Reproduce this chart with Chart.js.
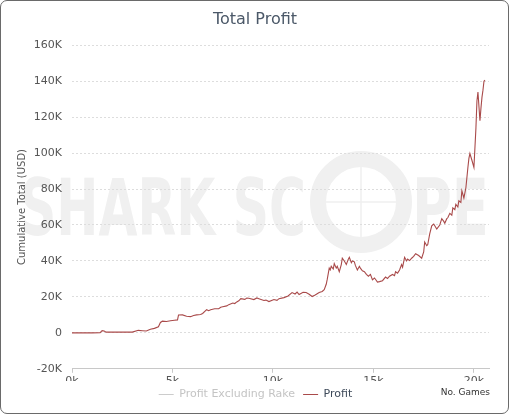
<!DOCTYPE html>
<html>
<head>
<meta charset="utf-8">
<script src="https://cdn.jsdelivr.net/npm/chart.js@4.4.1/dist/chart.umd.min.js"></script>
<style>
  body { margin: 0; background: #fff; }
  #frame { position: absolute; left: 0; top: 0; width: 507px; height: 412px; border: 1px solid #6a6a6a; border-radius: 7px; }
  #profitChart { position: absolute; left: 0; top: 0; }
</style>
</head>
<body>
<div id="frame"></div>
<canvas id="profitChart" width="510" height="416"></canvas>
<script>
// ============================
// DATA (games played -> cumulative profit, USD)
// ============================
const games = [
    0, 500, 1000, 1400, 1500, 1600, 1700, 2000, 2500, 3000, 3300, 3500, 3700, 3900,
    4100, 4300, 4400, 4500, 4700, 4900, 5100, 5250, 5300, 5500, 5700, 5900, 6050, 6200,
    6400, 6500, 6700, 6800, 6900, 7100, 7300, 7400, 7500, 7700, 7800, 8000, 8100, 8200, 8300, 8400,
    8600, 8700, 8800, 9050, 9200, 9300, 9550, 9650, 9800, 10050, 10200, 10300, 10550, 10750, 10950,
    11100, 11200, 11300, 11500, 11650, 11800, 11950, 12100, 12300, 12450, 12550, 12650,
    12700, 12800, 12850, 12900, 13000, 13050, 13150, 13200, 13300, 13400, 13450, 13550, 13650, 13750, 13800, 13900, 13950,
    14050, 14100, 14200, 14300, 14350, 14450, 14550, 14650, 14750, 14850, 14950, 15050, 15100, 15200, 15300, 15450, 15600, 15700, 15800,
    15950, 16050, 16100, 16200, 16300, 16400, 16450, 16550, 16650, 16700, 16800, 16900, 17000, 17100, 17250, 17400, 17500,
    17550, 17650, 17700, 17800, 17900, 18000, 18150, 18300, 18400, 18500, 18550, 18650, 18700, 18800,
    18900, 18950, 19050, 19100, 19200, 19250, 19350, 19400, 19500, 19600, 19700, 19750, 19800, 19900, 20000, 20100,
    20150, 20200, 20300, 20350, 20400, 20450, 20500, 20550
];
const profit = [
    0, 0, 0, 100, 1200, 1000, 400, 400, 500, 400, 1400, 1200, 1000, 2000,
    2500, 3400, 5800, 6500, 6300, 6700, 7000, 7200, 9900, 10000, 9200, 9000, 9600, 10000,
    10200, 10800, 12900, 12300, 12800, 13400, 13400, 14200, 14500, 15000, 15700, 16600, 16300, 17200, 17800, 19000,
    18600, 19300, 19200, 18500, 19400, 19000, 18000, 18200, 17400, 18500, 18100, 19000, 19600, 20500, 22400,
    21600, 22700, 21300, 22600, 22400, 21500, 20200, 21000, 22400, 23000, 24000, 27000,
    29700, 36000, 35000, 37000, 35500, 38500, 36000, 37000, 34000, 38000, 41500, 40000, 38000, 41000, 42000, 39000, 40000,
    39500, 37500, 35000, 37000, 36000, 34500, 34000, 32500, 31500, 32500, 29500, 30500, 29800, 28200, 28500, 29000, 31000, 30200, 31500,
    32500, 31800, 34000, 33200, 35000, 38000, 36500, 42000, 40000, 41000, 40200, 41500, 42500, 44000, 43000, 41500, 45000,
    50500, 48500, 49000, 55000, 59500, 60500, 57700, 60000, 63500, 62000, 61000, 63500, 64000, 66500,
    65500, 69500, 68500, 71500, 70000, 73400, 72500, 79000, 75000, 80700, 92000, 97000, 99700, 96000, 92000, 114000,
    129000, 134000, 118000, 125000, 131000, 135000, 140000, 140600
];
const yTicksK = [-20, 0, 20, 40, 60, 80, 100, 120, 140, 160];
const xTicksK = [0, 5, 10, 15, 20];
const seriesNames = ["Profit Excluding Rake", "Profit"];

const FONT = "'DejaVu Sans', sans-serif";
const LINE_RED = "#a94a4a";

// watermark behind the plot
const watermark = {
    id: "watermark",
    beforeDraw(chart) {
        const ctx = chart.ctx;
        ctx.save();
        ctx.fillStyle = "#f0f0f0";
        ctx.strokeStyle = "#f0f0f0";
        ctx.font = "bold 78px " + FONT;
        ctx.textBaseline = "alphabetic";
        function fitText(txt, x0, x1, base) {
            const w = ctx.measureText(txt).width;
            ctx.save();
            ctx.translate(x0, base);
            ctx.scale((x1 - x0) / w, 1);
            ctx.fillText(txt, 0, 0);
            ctx.restore();
        }
        fitText("SHARK SC", 20, 306, 235);
        fitText("PE", 412, 489, 235);
        // scope ring
        ctx.lineWidth = 16;
        ctx.beginPath();
        ctx.arc(361, 202, 43, 0, Math.PI * 2);
        ctx.stroke();
        ctx.lineWidth = 1.5;
        ctx.beginPath();
        ctx.moveTo(361, 166); ctx.lineTo(361, 238);
        ctx.moveTo(325, 202); ctx.lineTo(397, 202);
        ctx.stroke();
        ctx.restore();
    }
};

// shift title/legend to where they sit in the original
const nudge = {
    id: "nudge",
    afterLayout(chart) {
        chart.titleBlock.left += 21;
        chart.legend.left += 22;
    },
    afterDraw(chart) {
        const ctx = chart.ctx;
        ctx.save();
        ctx.font = "9px " + FONT;
        ctx.fillStyle = "#333";
        ctx.textAlign = "right";
        ctx.textBaseline = "middle";
        ctx.fillText("No. Games", 490, 393);
        ctx.restore();
    }
};

const ctx = document.getElementById("profitChart").getContext("2d");
new Chart(ctx, {
    type: "line",
    data: {
        datasets: [
            {
                label: seriesNames[0],
                data: [],
                borderColor: "#cccccc",
                borderWidth: 1,
                pointRadius: 0
            },
            {
                label: seriesNames[1],
                data: games.map((g, i) => ({ x: g, y: profit[i] })),
                borderColor: LINE_RED,
                borderWidth: 1.1,
                pointRadius: 0,
                tension: 0
            }
        ]
    },
    options: {
        responsive: false,
        animation: false,
        layout: { padding: { left: 0, right: 21, top: 0, bottom: 6 } },
        plugins: {
            title: {
                display: true,
                text: "Total Profit",
                color: "#4b5868",
                font: { family: FONT, size: 16, weight: "normal" },
                padding: { top: 10, bottom: 16 }
            },
            legend: {
                position: "bottom",
                labels: {
                    usePointStyle: true,
                    pointStyleWidth: 15,
                    padding: 8,
                    font: { family: FONT, size: 11 },
                    generateLabels: () => [
                        { text: seriesNames[0], fontColor: "#c4c4c4", strokeStyle: "#cccccc", fillStyle: "#cccccc", lineWidth: 1, pointStyle: "line", hidden: false, datasetIndex: 0 },
                        { text: seriesNames[1], fontColor: "#3e4a5a", strokeStyle: LINE_RED, fillStyle: LINE_RED, lineWidth: 1, pointStyle: "line", hidden: false, datasetIndex: 1 }
                    ]
                }
            },
            tooltip: { enabled: false }
        },
        scales: {
            x: {
                type: "linear",
                min: 0,
                max: 20750,
                afterBuildTicks: s => { s.ticks = xTicksK.map(v => ({ value: v * 1000 })); },
                afterFit: s => { s.height = s.height - 9; },
                ticks: {
                    color: "#555",
                    font: { family: FONT, size: 11 },
                    padding: 2,
                    maxRotation: 0,
                    callback: v => (v / 1000) + "k"
                },
                grid: { drawOnChartArea: false, drawTicks: true, tickLength: 4, color: "#c8c8c8" },
                border: { display: true, color: "#c8c8c8" }
            },
            y: {
                min: -20000,
                max: 160000,
                afterBuildTicks: s => { s.ticks = yTicksK.map(v => ({ value: v * 1000 })); },
                afterFit: s => { s.width = 72; },
                ticks: {
                    color: "#555",
                    font: { family: FONT, size: 11 },
                    padding: 10,
                    callback: v => v === 0 ? "0" : (v / 1000) + "K"
                },
                title: {
                    display: true,
                    text: "Cumulative Total (USD)",
                    color: "#555",
                    font: { family: FONT, size: 10 },
                    padding: { top: 16, bottom: 0 }
                },
                grid: { drawTicks: false, color: "#dddddd" },
                border: { display: false, dash: [2, 2] }
            }
        }
    },
    plugins: [watermark, nudge]
});
</script>
</body>
</html>
